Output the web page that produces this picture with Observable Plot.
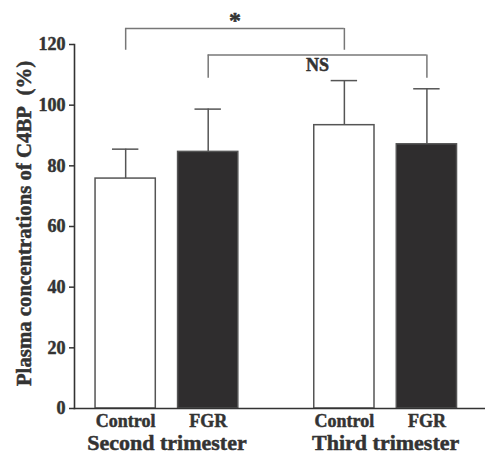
<!DOCTYPE html>
<html><head><meta charset="utf-8">
<script src="https://cdn.jsdelivr.net/npm/d3@7"></script>
<script src="https://cdn.jsdelivr.net/npm/@observablehq/plot@0.6"></script>
<style>body{margin:0;background:#fff} svg{display:block}</style>
</head><body><div id="chart"></div>
<script>
// ---- data ----
const groups = ["Second trimester", "Third trimester"];
const categories = ["Control", "FGR"];
const means = [75.8, 84.6, 93.4, 87.1];      // bar heights (%)
const sdTops = [85.5, 98.7, 108.1, 105.4];   // mean + SD
const yTicks = [0, 20, 40, 60, 80, 100, 120];
const comparisons = [
  {from: 0, to: 2, label: "*", level: 125.3, drop: 7.2, side: "above"},
  {from: 1, to: 3, label: "NS", level: 116.5, drop: 7.6, side: "below"}
];

// ---- layout ----
const GROUP_GAP = 2.65, BAR_HALF = 0.365, CAP_HALF = 0.16;
const X_MIN = -0.62, X_MAX = 4.36;
const FONT = "'Liberation Serif', 'Times New Roman', serif";
const INK = "#333";
const pos = i => Math.floor(i / 2) * GROUP_GAP + (i % 2);

const bars = means.map((m, i) => ({
  group: groups[Math.floor(i / 2)],
  category: categories[i % 2],
  mean: m, top: sdTops[i], u: pos(i)
}));
const groupLabels = groups.map((g, gi) => ({label: g, u: gi * GROUP_GAP + 0.5}));
const brackets = comparisons.map(c => ({...c, x1: pos(c.from), x2: pos(c.to), mid: (pos(c.from) + pos(c.to)) / 2}));
const heavy = {stroke: INK, strokeWidth: 0.5, fill: INK};

const chart = Plot.plot({
  width: 485, height: 454,
  marginLeft: 74, marginRight: 0, marginTop: 44, marginBottom: 46,
  x: {domain: [X_MIN, X_MAX], axis: null},
  y: {domain: [0, 120], axis: null},
  style: {fontFamily: FONT, fontWeight: "bold", background: "#fff", color: INK},
  marks: [
    Plot.rectY(bars, {x1: d => d.u - BAR_HALF, x2: d => d.u + BAR_HALF, y1: 0, y2: "mean",
      fill: d => d.category === "Control" ? "#ffffff" : "#2f2d2e", stroke: "#555", strokeWidth: 1.5}),
    Plot.ruleX(bars, {x: "u", y1: "mean", y2: "top", stroke: "#555", strokeWidth: 1.5}),
    Plot.ruleY(bars, {x1: d => d.u - CAP_HALF, x2: d => d.u + CAP_HALF, y: "top", stroke: "#555", strokeWidth: 1.5}),
    Plot.frame({anchor: "left", stroke: "#333", strokeWidth: 1.6}),
    Plot.frame({anchor: "bottom", stroke: "#333", strokeWidth: 1.6}),
    Plot.ruleY(yTicks, {y: d => d, x1: () => X_MIN, x2: () => X_MIN - 5 / 82.5, stroke: "#333", strokeWidth: 1.5}),
    Plot.text(yTicks, {y: d => d, frameAnchor: "left", text: d => String(d), textAnchor: "end", dx: -9, fontSize: 18, ...heavy}),
    Plot.text(bars, {x: "u", y: 0, text: "category", dy: 13, fontSize: 18, ...heavy}),
    Plot.text(groupLabels, {x: "u", y: 0, text: "label", dy: 34, fontSize: 22, ...heavy}),
    Plot.text(["Plasma concentrations of C4BP\u00a0\u00a0(%)"], {frameAnchor: "left", text: d => d, textAnchor: "middle", rotate: -90, dx: -50, dy: -3, fontSize: 20.8, ...heavy}),
    // significance brackets
    Plot.ruleY(brackets, {x1: "x1", x2: "x2", y: "level", stroke: "#777", strokeWidth: 1.5}),
    Plot.ruleX(brackets, {x: "x1", y1: "level", y2: d => d.level - d.drop, stroke: "#777", strokeWidth: 1.5}),
    Plot.ruleX(brackets, {x: "x2", y1: "level", y2: d => d.level - d.drop, stroke: "#777", strokeWidth: 1.5}),
    Plot.text(brackets.filter(d => d.side === "above"), {x: "mid", y: "level", text: "label", dy: -8, fontSize: 24, ...heavy}),
    Plot.text(brackets.filter(d => d.side === "below"), {x: "mid", y: "level", text: "label", dy: 10, fontSize: 18, ...heavy})
  ]
});
document.getElementById("chart").appendChild(chart);
</script></body></html>
